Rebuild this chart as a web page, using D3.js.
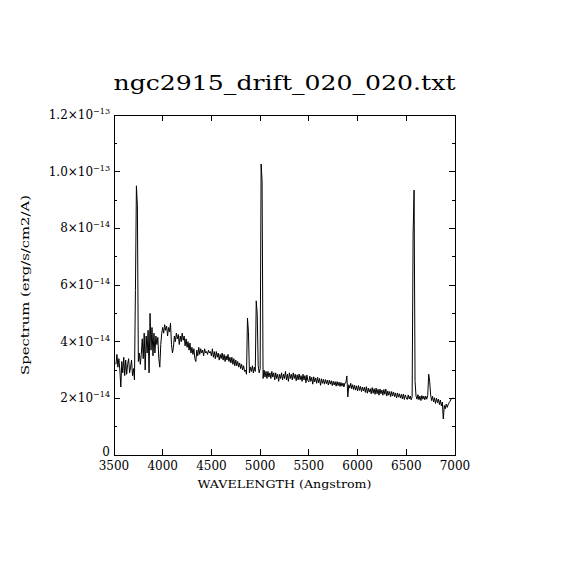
<!DOCTYPE html>
<html>
<head>
<meta charset="utf-8">
<script src="https://cdn.jsdelivr.net/npm/d3@7"></script>
<style>
  body { margin: 0; background: #fff; }
  text { font-family: "DejaVu Serif", serif; fill: #000; }
</style>
</head>
<body>
<svg id="chart" width="570" height="570"></svg>
<script>
// Spectrum flux in units of 1e-14 erg/s/cm2/A, sampled every 10 A
const sampleStep = 10;
const segmentStart = [3520, 4000, 4500, 5000, 5500, 6000, 6500];

const flux3500 = [
  3.2, 3.55, 3.1, 3.4, 3.0, 2.4, 3.3, 2.9, 3.45, 2.8,
  3.35, 2.85, 3.2, 3.4, 2.9, 3.1, 3.35, 2.8, 3.05, 2.65,
  5.8, 9.5, 8.8, 3.3, 3.6, 3.2, 3.55, 4.1, 3.4, 4.3,
  3.0, 4.2, 3.6, 4.4, 2.9, 5.0, 3.7, 4.5, 3.5, 4.3,
  3.6, 4.2, 3.9, 4.15, 3.4, 3.1, 3.9, 4.3,
];
const flux4000 = [
  4.5, 4.3, 4.6, 4.4, 4.55, 4.2, 4.5, 4.35, 4.65, 3.9,
  3.6, 3.8, 4.2, 4.0, 4.3, 4.1, 4.25, 3.9, 4.2, 4.0,
  4.3, 4.05, 4.2, 3.85, 4.1, 3.8, 4.0, 3.7, 3.95, 3.6,
  3.8, 3.55, 3.75, 3.4, 3.3, 3.7, 3.5, 3.8, 3.55, 3.75,
  3.6, 3.7, 3.5, 3.75, 3.6, 3.65, 3.55, 3.7, 3.6, 3.65,
];
const flux4500 = [
  3.5, 3.75, 3.45, 3.65, 3.4, 3.65, 3.45, 3.6, 3.35, 3.55,
  3.4, 3.6, 3.35, 3.55, 3.3, 3.5, 3.35, 3.55, 3.3, 3.45,
  3.25, 3.45, 3.2, 3.4, 3.15, 3.35, 3.15, 3.3, 3.1, 3.25,
  3.05, 3.2, 3.0, 3.15, 2.95, 3.0, 2.85, 4.83, 4.35, 2.9,
  3.1, 2.95, 3.15, 2.9, 3.1, 2.95, 5.44, 4.98, 3.15, 2.9,
];
const flux5000 = [
  3.05, 10.27, 9.68, 2.7, 3.0, 2.75, 2.95, 2.7, 2.95, 2.75,
  2.9, 2.7, 2.95, 2.75, 2.9, 2.65, 2.9, 2.7, 2.85, 2.6,
  2.85, 2.7, 2.9, 2.65, 2.85, 2.7, 2.95, 2.65, 2.85, 2.6,
  2.9, 2.7, 2.85, 2.65, 2.9, 2.7, 2.85, 2.62, 2.83, 2.65,
  2.86, 2.66, 2.8, 2.6, 2.85, 2.65, 2.8, 2.55, 2.82, 2.62,
];
const flux5500 = [
  2.58, 2.78, 2.6, 2.74, 2.5, 2.76, 2.58, 2.72, 2.53, 2.74,
  2.55, 2.7, 2.46, 2.69, 2.53, 2.67, 2.5, 2.66, 2.52, 2.64,
  2.47, 2.64, 2.5, 2.62, 2.45, 2.6, 2.47, 2.59, 2.43, 2.59,
  2.45, 2.57, 2.42, 2.56, 2.43, 2.54, 2.4, 2.54, 2.55, 2.79,
  2.05, 2.48, 2.36, 2.53, 2.34, 2.48, 2.31, 2.46, 2.29, 2.44,
];
const flux6000 = [
  2.26, 2.45, 2.28, 2.42, 2.24, 2.4, 2.26, 2.39, 2.21, 2.41,
  2.18, 2.36, 2.22, 2.34, 2.16, 2.38, 2.18, 2.34, 2.14, 2.36,
  2.16, 2.32, 2.11, 2.33, 2.16, 2.29, 2.11, 2.31, 2.14, 2.33,
  2.08, 2.26, 2.11, 2.24, 2.06, 2.24, 2.08, 2.22, 2.06, 2.19,
  2.01, 2.19, 2.04, 2.16, 2.01, 2.14, 1.98, 2.15, 1.96, 2.12,
];
const flux6500 = [
  2.02, 1.96, 2.12, 1.98, 2.08, 1.95, 2.05, 7.8, 9.35, 2.6,
  2.08, 1.97, 2.13, 1.95, 2.08, 1.92, 2.1, 1.97, 2.08, 1.95,
  2.08, 1.97, 2.1, 2.85, 2.6, 2.12, 1.92, 2.07, 1.87, 2.02,
  1.82, 2.0, 1.85, 1.97, 1.78, 1.94, 1.73, 1.87, 1.27, 1.75,
  1.63, 1.8, 1.68, 1.78, 1.85, 1.9, 1.98, 2.0, 2.0, 2.0,
];
const fluxUnit = 1e-14;

// Axis ticks
const xTicks = [3500, 4000, 4500, 5000, 5500, 6000, 6500, 7000];
const yTicks = [0, 2e-14, 4e-14, 6e-14, 8e-14, 1.0e-13, 1.2e-13];
const yTickMantissa = ["0", "2", "4", "6", "8", "1.0", "1.2"];
const yTickExponent = ["", "\u221214", "\u221214", "\u221214", "\u221214", "\u221213", "\u221213"];
const yMinorTicks = [1e-14, 3e-14, 5e-14, 7e-14, 9e-14, 1.1e-13];

const title = "ngc2915_drift_020_020.txt";
const xLabel = "WAVELENGTH (Angstrom)";
const yLabel = "Spectrum (erg/s/cm2/A)";

// Build points
const segments = [flux3500, flux4000, flux4500, flux5000, flux5500, flux6000, flux6500];
const spectrum = [];
segments.forEach((values, s) => {
  values.forEach((v, i) => {
    spectrum.push({ wave: segmentStart[s] + i * sampleStep, flux: v * fluxUnit });
  });
});

const svg = d3.select("#chart");
const plotLeft = 114, plotRight = 455, plotTop = 115, plotBottom = 455;

const x = d3.scaleLinear().domain([3500, 7000]).range([plotLeft, plotRight]);
const y = d3.scaleLinear().domain([0, 1.2e-13]).range([plotBottom, plotTop]);

svg.append("rect").attr("width", 570).attr("height", 570).attr("fill", "#fff");

// Spectrum line
svg
  .append("path")
  .datum(spectrum)
  .attr("fill", "none")
  .attr("stroke", "#000")
  .attr("stroke-width", 1)
  .attr("d", d3.line().x((d) => x(d.wave)).y((d) => y(d.flux)));

// Frame
svg
  .append("rect")
  .attr("x", plotLeft)
  .attr("y", plotTop)
  .attr("width", plotRight - plotLeft)
  .attr("height", plotBottom - plotTop)
  .attr("fill", "none")
  .attr("stroke", "#000")
  .attr("stroke-width", 1)
  .attr("shape-rendering", "crispEdges");

// Ticks pointing inward on all four sides
const tickGroup = svg.append("g").attr("stroke", "#000").attr("shape-rendering", "crispEdges");
xTicks.forEach((t) => {
  tickGroup.append("line").attr("x1", x(t)).attr("x2", x(t)).attr("y1", plotBottom).attr("y2", plotBottom - 6);
  tickGroup.append("line").attr("x1", x(t)).attr("x2", x(t)).attr("y1", plotTop).attr("y2", plotTop + 6);
});
yTicks.forEach((t) => {
  tickGroup.append("line").attr("x1", plotLeft).attr("x2", plotLeft + 6).attr("y1", y(t)).attr("y2", y(t));
  tickGroup.append("line").attr("x1", plotRight).attr("x2", plotRight - 6).attr("y1", y(t)).attr("y2", y(t));
});
yMinorTicks.forEach((t) => {
  tickGroup.append("line").attr("x1", plotLeft).attr("x2", plotLeft + 3).attr("y1", y(t)).attr("y2", y(t));
  tickGroup.append("line").attr("x1", plotRight).attr("x2", plotRight - 3).attr("y1", y(t)).attr("y2", y(t));
});

// X tick labels
svg
  .append("g")
  .selectAll("text")
  .data(xTicks)
  .join("text")
  .attr("x", (d) => x(d))
  .attr("y", plotBottom + 15)
  .attr("text-anchor", "middle")
  .style("font-size", "12px")
  .text((d) => d);

// Y tick labels with superscript exponent
const yLabels = svg
  .append("g")
  .selectAll("text")
  .data(yTicks)
  .join("text")
  .attr("x", plotLeft - 4)
  .attr("y", (d) => (d === 0 ? y(d) + 1 : y(d) + 4))
  .attr("text-anchor", "end")
  .style("font-size", "12px");

yLabels.each(function (d, i) {
  const t = d3.select(this);
  if (yTickExponent[i] === "") {
    t.text(yTickMantissa[i]);
    return;
  }
  t.append("tspan").text(yTickMantissa[i] + "\u00d710");
  t.append("tspan").attr("dy", -5).style("font-size", "8px").text(yTickExponent[i]);
});

// Title and axis labels
svg
  .append("text")
  .attr("x", (plotLeft + plotRight) / 2)
  .attr("y", 90)
  .attr("text-anchor", "middle")
  .attr("textLength", 342)
  .attr("lengthAdjust", "spacingAndGlyphs")
  .style("font-size", "20px")
  .text(title);

svg
  .append("text")
  .attr("x", (plotLeft + plotRight) / 2)
  .attr("y", 488)
  .attr("text-anchor", "middle")
  .attr("textLength", 174)
  .attr("lengthAdjust", "spacingAndGlyphs")
  .style("font-size", "11px")
  .text(xLabel);

svg
  .append("text")
  .attr("transform", `translate(29,${(plotTop + plotBottom) / 2}) rotate(-90)`)
  .attr("text-anchor", "middle")
  .attr("textLength", 180)
  .attr("lengthAdjust", "spacingAndGlyphs")
  .style("font-size", "11px")
  .text(yLabel);
</script>
</body>
</html>
